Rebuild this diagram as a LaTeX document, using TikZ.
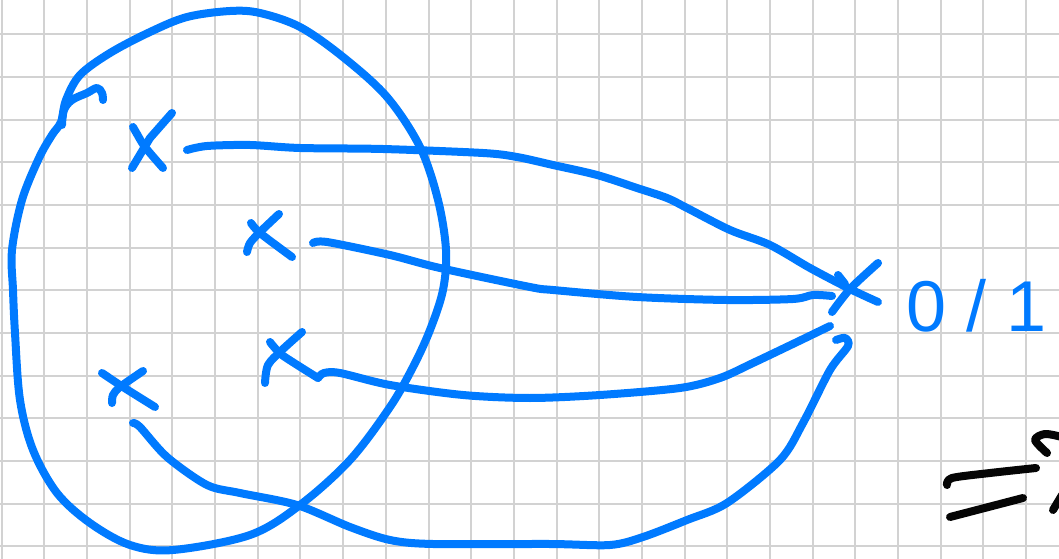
\documentclass[tikz,border=0pt]{standalone}
\usepackage{fontspec}
\newfontfamily\handfont{Liberation Sans}
\definecolor{penblue}{RGB}{0,122,255}
\definecolor{gridgray}{RGB}{210,210,210}
\definecolor{penblack}{RGB}{5,5,5}
\tikzset{
  pen/.style={draw=penblue, line width=6pt, line cap=round, line join=round},
  blackpen/.style={draw=penblack, line width=6pt, line cap=round, line join=round},
  gridline/.style={draw=gridgray, line width=1.5pt},
}
\begin{document}
\begin{tikzpicture}[x=0.75pt, y=-0.75pt]
\fill[white] (0,0) rectangle (1059,559);
\useasboundingbox (0,0) rectangle (1059,559);
% grid paper
\foreach \i in {0,...,24} \draw[gridline] ({1.7+42.68*\i},0) -- ({1.7+42.68*\i},559);
\foreach \j in {0,...,12} \draw[gridline] (0,{34.3+42.68*\j}) -- (1059,{34.3+42.68*\j});

% named points
\coordinate (s1) at (187,150);
\coordinate (s2) at (313,243);
\coordinate (s3) at (318,378);
\coordinate (s4) at (133,423);
\coordinate (t) at (850,289);
\coordinate (e1) at (878,302);
\coordinate (e2) at (832,296);
\coordinate (e3) at (830,326);
\coordinate (e4) at (836,340);

% big set outline
\draw[pen] plot[smooth cycle, tension=0.55] coordinates {
  (61,122) (66,100) (80,75) (110,53) (150,32) (187,17) (230,11) (260,13)
  (300,27) (343,57) (387,97) (420,147) (438,200) (446,250) (443,290)
  (430,330) (413,367) (390,407) (350,460) (300,505) (250,535) (173,550)
  (130,545) (90,523) (57,493) (33,450) (20,400) (15,333) (13,290)
  (12,250) (22,200) (39,158) (52,135)};
% little hook on the outline
\draw[pen] plot[smooth, tension=0.6] coordinates {(62,125) (64,110) (72,100) (87,93) (97,88) (102,93) (103,100)};

% crosses
\draw[pen] (172,113) -- (150,138) -- (132,168);
\draw[pen] plot[smooth, tension=0.5] coordinates {(133,127) (137,134) (145,147) (163,168)};
\draw[pen] plot[smooth, tension=0.5] coordinates {(279,214) (260,232) (250,243) (247,252)};
\draw[pen] plot[smooth, tension=0.5] coordinates {(251,223) (260,233) (292,257)};
\draw[pen] plot[smooth, tension=0.5] coordinates {(143,371) (120,387) (113,395) (112,403)};
\draw[pen] plot[smooth, tension=0.5] coordinates {(102,373) (123,387) (155,407)};
\draw[pen] plot[smooth, tension=0.5] coordinates {(302,332) (282,350) (268,365) (265,383)};
\draw[pen] plot[smooth, tension=0.4] coordinates {(270,342) (282,355) (s3)};

% target cross
\draw[pen] plot[smooth, tension=0.5] coordinates {(878,263) (t) (832,312)};
\draw[pen] (838,275) -- (845,284);

% connectors
\draw[pen] plot[smooth, tension=0.5] coordinates {
  (s1) (207,146) (250,145) (300,148) (383,149) (483,153) (517,157) (553,165)
  (597,175) (637,188) (667,198) (687,208) (730,230) (770,245) (810,268) (t) (e1)};
\draw[pen] plot[smooth, tension=0.5] coordinates {
  (s2) (327,242) (390,255) (440,268) (530,287) (553,290) (637,297) (727,300)
  (793,299) (813,295) (e2)};
\draw[pen] plot[smooth, tension=0.5] coordinates {
  (s3) (324,373) (340,373) (390,385) (463,395) (530,398) (600,395) (680,388)
  (720,378) (753,363) (797,342) (e3)};
\draw[pen] plot[smooth, tension=0.5] coordinates {
  (s4) (140,427) (167,457) (207,485) (240,493) (297,505) (350,527) (390,540)
  (433,544) (550,544) (610,545) (643,537) (687,520) (727,503) (780,460)
  (803,423) (830,370) (848,346) (845,338) (e4)};

% label
\node[anchor=base west, inner sep=0, text=penblue,
      font=\handfont\fontsize{54}{54}\selectfont] (lbl) at (906,331)
      {0\hspace{15pt}/\hspace{15pt}1};

% black implication fragment
\draw[blackpen] plot[smooth, tension=0.5] coordinates {(947,485) (952,478) (990,473) (1036,468)};
\draw[blackpen] (950,517) -- (1023,498);
\draw[blackpen] plot[smooth, tension=0.5] coordinates {(1047,453) (1035,440) (1045,434) (1062,437)};
\draw[blackpen] (1053,510) -- (1062,495);
\end{tikzpicture}
\end{document}
